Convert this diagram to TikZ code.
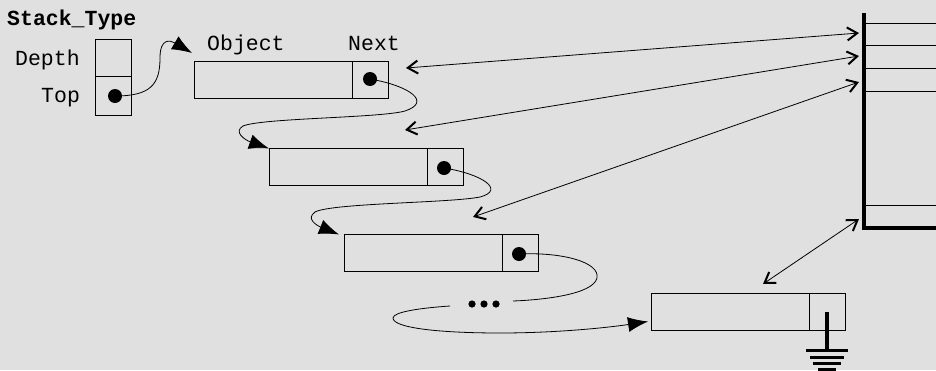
\documentclass[tikz,border=0pt]{standalone}
\usepackage{fontspec}
\setmonofont{Liberation Mono}
\usetikzlibrary{arrows.meta}
\definecolor{paper}{RGB}{224,224,224}
\tikzset{
  fathead/.tip={Latex[length=20pt,width=15pt]},
  barb/.tip={Straight Barb[length=10pt,width=13pt,line width=2pt]}
}

\begin{document}
\begin{tikzpicture}[x=1pt,y=-1pt,
  cell/.style={draw, line width=0.8pt, inner sep=0pt, outer sep=0pt, minimum height=37pt},
  field/.style={cell, minimum width=158pt},
  link/.style={cell, minimum width=36pt},
  ptr/.style={circle, fill, inner sep=0pt, minimum size=14pt},
  lbl/.style={font=\ttfamily\fontsize{21.5}{24}\selectfont, inner sep=0pt, anchor=base west},
  chain/.style={line width=0.8pt, -fathead},
  ref/.style={line width=0.8pt, barb-barb},
  wall/.style={line width=4pt},
  slot/.style={line width=0.8pt},
  earth/.style={line width=3pt}
]
\fill[paper] (0,0) rectangle (936,370);
\useasboundingbox (0,0) rectangle (936,370);

% Stack_Type record
\node[lbl, font=\ttfamily\bfseries\fontsize{21.5}{24}\selectfont] (title) at (7,25) {Stack\_Type};
\node[link] (depth) at (113,57.5) {};
\node[link, minimum height=39pt] (top) at (113,95.5) {};
\node[lbl] (depthlbl) at (15,65) {Depth};
\node[lbl] (toplbl) at (41,102) {Top};
\node[ptr] (topdot) at (115,96) {};

% column headings
\node[lbl] (objlbl) at (207,50) {Object};
\node[lbl] (nextlbl) at (348,50) {Next};

% list cells
\node[field] (obj1) at (273,79.5) {};
\node[link] (nxt1) at (370,79.5) {};
\node[ptr] (dot1) at (370,79) {};

\node[field] (obj2) at (348,167) {};
\node[link] (nxt2) at (445,167) {};
\node[ptr] (dot2) at (444,168) {};

\node[field] (obj3) at (423,253) {};
\node[link] (nxt3) at (520,253) {};
\node[ptr] (dot3) at (519,254) {};

\node[field] (obj4) at (730,311.5) {};
\node[link] (nxt4) at (827,311.5) {};

% links between cells
\draw[chain] (topdot.center) .. controls (150,96) and (160,85) .. (160,58)
  .. controls (160,38) and (170,40) .. ([shift={(-2,-8)}]obj1.north west);
\draw[chain] (dot1.center) .. controls (410,86) and (432,102) .. (405,111)
  .. controls (380,118) and (262,118) .. (243,126)
  .. controls (233,132) and (245,140) .. (obj2.north west);
\draw[chain] (dot2.center) .. controls (482,174) and (506,190) .. (480,197)
  .. controls (450,203) and (332,203) .. (315,212)
  .. controls (305,219) and (318,226) .. ([xshift=-5pt]obj3.north west);

% the run of cells left out
\coordinate (gapin) at (513,301);
\coordinate (gapout) at (450,306);
\node[inner sep=0pt, minimum width=34pt, minimum height=8pt] (more) at (484,304) {};
\foreach \dx in {-12,0,12} \fill ([xshift=\dx pt]more.center) circle (3.6pt);
\draw[line width=0.8pt] (dot3.center) .. controls (562,252) and (600,262) .. (597,278)
  .. controls (593,295) and (540,300) .. (gapin);
\draw[chain] (gapout) .. controls (420,308) and (393,312) .. (393,318)
  .. controls (393,328) and (440,333) .. (500,333)
  .. controls (560,333) and (612,327) .. ([shift={(-3,10)}]obj4.west);

% ground on the last cell
\draw[earth, line width=4pt] (nxt4.center) -- ++(0,38.5) coordinate (g0);
\draw[earth] ([xshift=-21pt]g0) -- ++(42,0);
\draw[earth] ([xshift=-17pt,yshift=-7pt]g0) -- ++(34,0);
\draw[earth] ([xshift=-14pt,yshift=-13pt]g0) -- ++(28,0);
\draw[earth] ([xshift=-9pt,yshift=-19pt]g0) -- ++(18,0);

% stack storage
\draw[wall] (864,13) -- (864,228) -- (936,228);
\foreach \y in {23,45,68,91,205} \draw[slot] (866,\y) -- (936,\y);

% references into the storage
\coordinate (s1) at (859,33);
\coordinate (s2) at (859,56);
\coordinate (s3) at (859,82);
\coordinate (s4) at (859,219);
\coordinate (r1) at (406,68);
\coordinate (r2) at (405,130);
\coordinate (r3) at (473,217);
\coordinate (r4) at (763,284);
\draw[ref] (r1) -- (s1);
\draw[ref] (r2) -- (s2);
\draw[ref] (r3) -- (s3);
\draw[ref] (r4) -- (s4);
\end{tikzpicture}
\end{document}
